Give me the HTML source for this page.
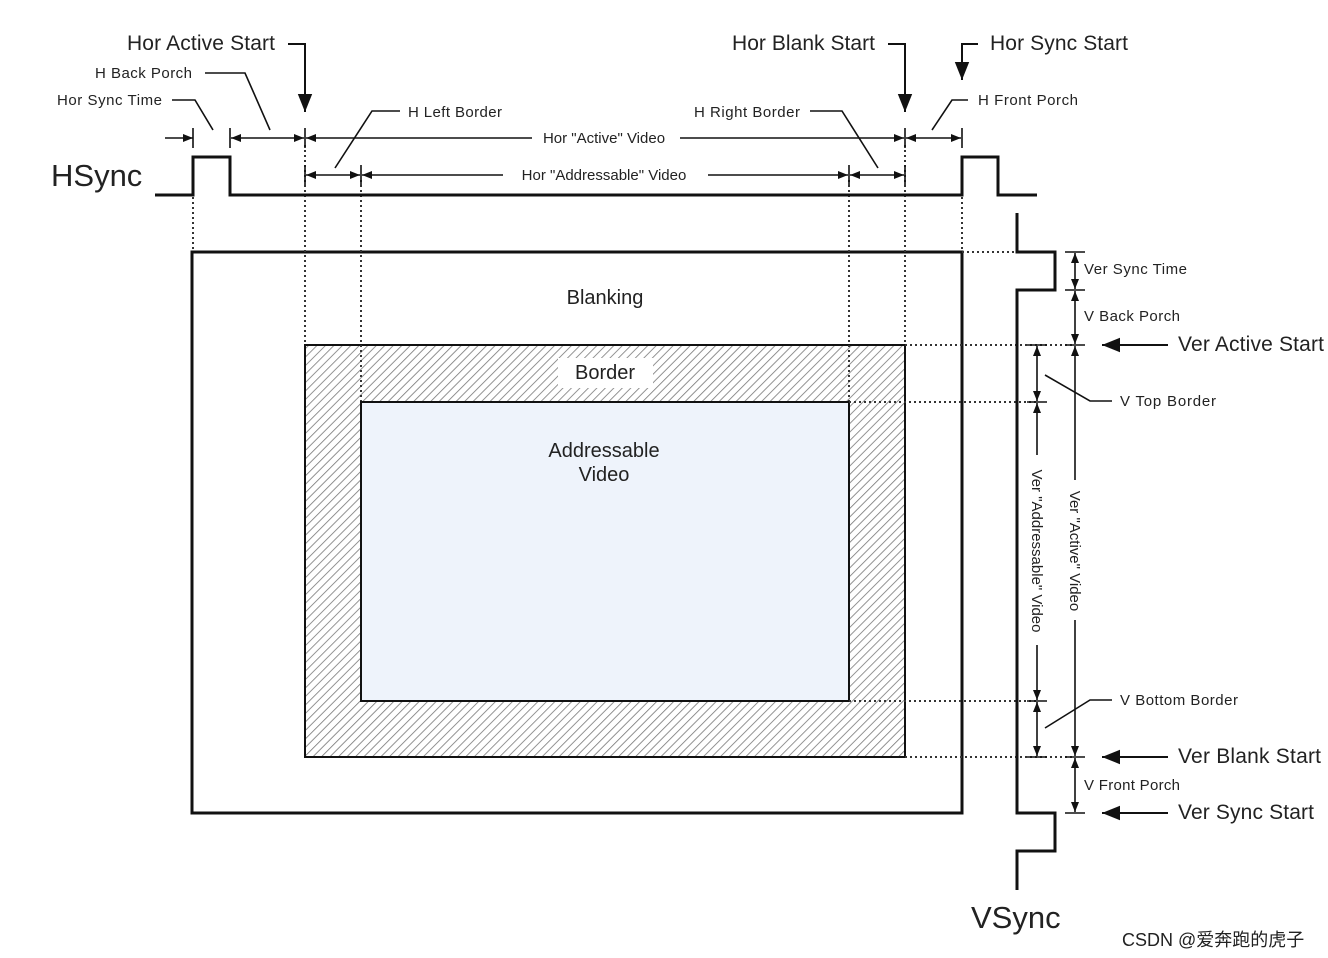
<!DOCTYPE html>
<html><head><meta charset="utf-8"><style>
html,body{margin:0;padding:0;background:#fff;}
svg{display:block;}
text{font-family:"Liberation Sans","Noto Sans CJK SC",sans-serif;fill:#222;}
</style></head><body>
<svg width="1328" height="958" viewBox="0 0 1328 958" xmlns="http://www.w3.org/2000/svg">
<defs>
<pattern id="h" width="6" height="6" patternUnits="userSpaceOnUse" patternTransform="rotate(45)">
<rect width="6" height="6" fill="#fff"/><line x1="0" y1="0" x2="0" y2="6" stroke="#777" stroke-width="1.6"/></pattern>
<marker id="a" viewBox="0 0 10 10" refX="10" refY="5" markerWidth="10" markerHeight="10" markerUnits="userSpaceOnUse" orient="auto"><path d="M0,1L10,5L0,9z" fill="#111"/></marker>
<marker id="b" viewBox="0 0 10 10" refX="10" refY="5" markerWidth="18" markerHeight="18" markerUnits="userSpaceOnUse" orient="auto"><path d="M0,1L10,5L0,9z" fill="#111"/></marker>
</defs>
<rect x="192" y="252" width="770" height="561" fill="#fff" stroke="#111" stroke-width="3"/>
<rect x="305" y="345" width="600" height="412" fill="url(#h)" stroke="#111" stroke-width="2"/>
<rect x="361" y="402" width="488" height="299" fill="#eef3fb" stroke="#111" stroke-width="2"/>
<rect x="558" y="358" width="95" height="30" fill="#fff"/>
<text x="605" y="304" font-size="20" text-anchor="middle">Blanking</text>
<text x="605" y="379" font-size="20" text-anchor="middle">Border</text>
<text x="604" y="457" font-size="20" text-anchor="middle">Addressable</text>
<text x="604" y="481" font-size="20" text-anchor="middle">Video</text>
<g stroke="#333" stroke-width="2" stroke-dasharray="2,3">
<line x1="193" y1="197" x2="193" y2="250"/><line x1="305" y1="145" x2="305" y2="344"/>
<line x1="361" y1="180" x2="361" y2="401"/><line x1="849" y1="180" x2="849" y2="401"/>
<line x1="905" y1="145" x2="905" y2="344"/><line x1="962" y1="197" x2="962" y2="250"/>
<line x1="962" y1="252" x2="1017" y2="252"/><line x1="905" y1="345" x2="1075" y2="345"/>
<line x1="849" y1="402" x2="1037" y2="402"/><line x1="849" y1="701" x2="1037" y2="701"/>
<line x1="905" y1="757" x2="1075" y2="757"/>
</g>
<polyline points="155,195 193,195 193,157 230,157 230,195 962,195 962,157 998,157 998,195 1037,195" fill="none" stroke="#111" stroke-width="3"/>
<polyline points="1017,213 1017,252 1055,252 1055,290 1017,290 1017,813 1055,813 1055,851 1017,851 1017,890" fill="none" stroke="#111" stroke-width="3"/>
<text x="51" y="186" font-size="31">HSync</text>
<text x="971" y="928" font-size="31">VSync</text>
<g stroke="#111" stroke-width="1.6" fill="none">
<line x1="193" y1="128" x2="193" y2="148"/><line x1="230" y1="128" x2="230" y2="148"/>
<line x1="305" y1="128" x2="305" y2="148"/><line x1="905" y1="128" x2="905" y2="148"/><line x1="962" y1="128" x2="962" y2="148"/>
<line x1="305" y1="165" x2="305" y2="185"/><line x1="361" y1="165" x2="361" y2="185"/><line x1="849" y1="165" x2="849" y2="185"/><line x1="905" y1="165" x2="905" y2="185"/>
<line x1="165" y1="138" x2="193" y2="138" marker-end="url(#a)"/>
<line x1="268" y1="138" x2="231" y2="138" marker-end="url(#a)"/><line x1="268" y1="138" x2="304" y2="138" marker-end="url(#a)"/>
<line x1="532" y1="138" x2="306" y2="138" marker-end="url(#a)"/><line x1="680" y1="138" x2="904" y2="138" marker-end="url(#a)"/>
<line x1="933" y1="138" x2="906" y2="138" marker-end="url(#a)"/><line x1="933" y1="138" x2="961" y2="138" marker-end="url(#a)"/>
<line x1="333" y1="175" x2="306" y2="175" marker-end="url(#a)"/><line x1="333" y1="175" x2="360" y2="175" marker-end="url(#a)"/>
<line x1="503" y1="175" x2="362" y2="175" marker-end="url(#a)"/><line x1="708" y1="175" x2="848" y2="175" marker-end="url(#a)"/>
<line x1="877" y1="175" x2="850" y2="175" marker-end="url(#a)"/><line x1="877" y1="175" x2="904" y2="175" marker-end="url(#a)"/>
<polyline points="172,100 195,100 213,130"/><polyline points="205,73 245,73 270,130"/>
<polyline points="400,111 372,111 335,168"/><polyline points="810,111 842,111 878,168"/>
<polyline points="968,100 952,100 932,130"/>
<polyline points="288,44 305,44 305,112" stroke-width="2" marker-end="url(#b)"/>
<polyline points="888,44 905,44 905,112" stroke-width="2" marker-end="url(#b)"/>
<polyline points="978,44 962,44 962,80" stroke-width="2" marker-end="url(#b)"/>
</g>
<text x="127" y="50" font-size="21" textLength="148">Hor Active Start</text>
<text x="95" y="78" font-size="15" fill="#444" textLength="97">H Back Porch</text>
<text x="57" y="105" font-size="15" fill="#444" textLength="105">Hor Sync Time</text>
<text x="408" y="117" font-size="15" fill="#444" textLength="94">H Left Border</text>
<text x="604" y="143" font-size="15" fill="#444" text-anchor="middle">Hor "Active" Video</text>
<text x="604" y="180" font-size="15" fill="#444" text-anchor="middle">Hor "Addressable" Video</text>
<text x="732" y="50" font-size="21" textLength="143">Hor Blank Start</text>
<text x="990" y="50" font-size="21" textLength="138">Hor Sync Start</text>
<text x="694" y="117" font-size="15" fill="#444" textLength="106">H Right Border</text>
<text x="978" y="105" font-size="15" fill="#444" textLength="100">H Front Porch</text>
<g stroke="#111" stroke-width="1.6" fill="none">
<line x1="1065" y1="252" x2="1085" y2="252"/><line x1="1065" y1="290" x2="1085" y2="290"/>
<line x1="1065" y1="345" x2="1085" y2="345"/><line x1="1065" y1="757" x2="1085" y2="757"/><line x1="1065" y1="813" x2="1085" y2="813"/>
<line x1="1027" y1="345" x2="1047" y2="345"/><line x1="1027" y1="402" x2="1047" y2="402"/>
<line x1="1027" y1="701" x2="1047" y2="701"/><line x1="1027" y1="757" x2="1047" y2="757"/>
<line x1="1075" y1="271" x2="1075" y2="253" marker-end="url(#a)"/><line x1="1075" y1="271" x2="1075" y2="289" marker-end="url(#a)"/>
<line x1="1075" y1="318" x2="1075" y2="291" marker-end="url(#a)"/><line x1="1075" y1="318" x2="1075" y2="344" marker-end="url(#a)"/>
<line x1="1075" y1="480" x2="1075" y2="346" marker-end="url(#a)"/><line x1="1075" y1="620" x2="1075" y2="756" marker-end="url(#a)"/>
<line x1="1075" y1="785" x2="1075" y2="758" marker-end="url(#a)"/><line x1="1075" y1="785" x2="1075" y2="812" marker-end="url(#a)"/>
<line x1="1037" y1="373" x2="1037" y2="346" marker-end="url(#a)"/><line x1="1037" y1="373" x2="1037" y2="401" marker-end="url(#a)"/>
<line x1="1037" y1="455" x2="1037" y2="403" marker-end="url(#a)"/><line x1="1037" y1="645" x2="1037" y2="700" marker-end="url(#a)"/>
<line x1="1037" y1="729" x2="1037" y2="702" marker-end="url(#a)"/><line x1="1037" y1="729" x2="1037" y2="756" marker-end="url(#a)"/>
<polyline points="1112,401 1090,401 1045,375"/><polyline points="1112,700 1090,700 1045,728"/>
<line x1="1168" y1="345" x2="1102" y2="345" stroke-width="2" marker-end="url(#b)"/>
<line x1="1168" y1="757" x2="1102" y2="757" stroke-width="2" marker-end="url(#b)"/>
<line x1="1168" y1="813" x2="1102" y2="813" stroke-width="2" marker-end="url(#b)"/>
</g>
<text x="1084" y="274" font-size="15" fill="#444" textLength="103">Ver Sync Time</text>
<text x="1084" y="321" font-size="15" fill="#444" textLength="96">V Back Porch</text>
<text x="1120" y="406" font-size="15" fill="#444" textLength="96">V Top Border</text>
<text x="1120" y="705" font-size="15" fill="#444" textLength="118">V Bottom Border</text>
<text x="1084" y="790" font-size="15" fill="#444" textLength="96">V Front Porch</text>
<text x="1178" y="351" font-size="21" textLength="146">Ver Active Start</text>
<text x="1178" y="763" font-size="21" textLength="143">Ver Blank Start</text>
<text x="1178" y="819" font-size="21" textLength="136">Ver Sync Start</text>
<text transform="translate(1070,551) rotate(90)" font-size="15" fill="#444" text-anchor="middle">Ver "Active" Video</text>
<text transform="translate(1032,551) rotate(90)" font-size="15" fill="#444" text-anchor="middle">Ver "Addressable" Video</text>
<text x="1122" y="946" font-size="18" fill="#999">CSDN @爱奔跑的虎子</text>
</svg>
</body></html>
